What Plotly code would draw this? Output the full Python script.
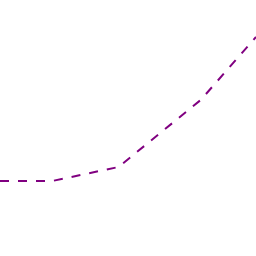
import plotly.graph_objects as go

x_vals = [0, 20.4, 46.3, 78.4, 100]
y_vals = [75, 75, 89, 156, 219]

fig = go.Figure(go.Scatter(x=x_vals, y=y_vals, mode="lines",
                           line=dict(color="#800080", width=2, dash="dash")))
fig.update_layout(width=256, height=256, margin=dict(l=0, r=0, t=0, b=0),
                  paper_bgcolor="white", plot_bgcolor="white", showlegend=False)
fig.update_xaxes(visible=False, range=[0, 100])
fig.update_yaxes(visible=False, range=[0, 256])
fig.write_html("out.html")
